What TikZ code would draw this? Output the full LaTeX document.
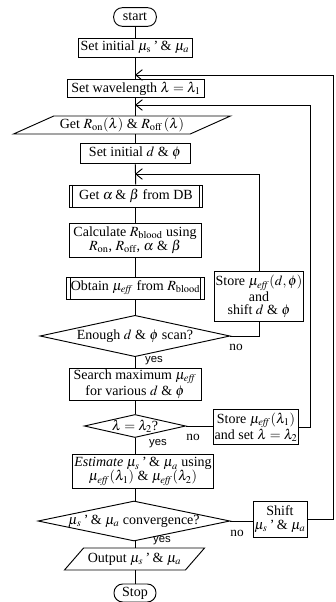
\documentclass[tikz,border=0pt]{standalone}
\usepackage{mathptmx}
\usepackage{fontspec}
\setmainfont{Liberation Serif}
\setsansfont{Liberation Sans}
\usetikzlibrary{shapes.geometric, arrows.meta}

\begin{document}
\begin{tikzpicture}[x=0.75pt, y=-0.75pt, line width=0.7pt,
    every node/.style={font=\fontsize{10.5}{10.5}\selectfont, inner sep=1pt, align=center},
    procbox/.style={draw, rectangle},
    predefbox/.style={procbox, path picture={
        \draw ([xshift=2.5pt]path picture bounding box.north west) -- ([xshift=2.5pt]path picture bounding box.south west);
        \draw ([xshift=-2.5pt]path picture bounding box.north east) -- ([xshift=-2.5pt]path picture bounding box.south east);}},
    iobox/.style={draw, trapezium, trapezium stretches=true},
    decision/.style={draw, diamond, inner sep=0pt},
    termbox/.style={draw, rectangle, rounded corners=6.5pt, minimum width=32pt, minimum height=14pt},
    yeslbl/.style={font=\sffamily\fontsize{8.5}{9}\selectfont, inner sep=0pt},
    nolbl/.style={font=\fontsize{10}{10}\selectfont, inner sep=0pt},
    >={Straight Barb[length=5pt, width=8pt]}]
  \useasboundingbox (0,0) rectangle (335,602);

  \node[termbox] (start) at (135,17) {start};
  \node[procbox, minimum width=85.5pt, minimum height=14.25pt] (init) at (135,47.5) {Set initial $\mu_{\mathrm{s}}$\,'\,\& $\mu_a$};
  \node[procbox, minimum width=103pt, minimum height=13pt] (wave) at (136,88.5) {Set wavelength $\lambda = \lambda_1$};
  \node[iobox, trapezium left angle=24, trapezium right angle=156, minimum width=163pt, minimum height=13.5pt] (getR) at (122,125)
    {Get $R_{\mathrm{on}}(\lambda)$ \& $R_{\mathrm{off}}\,(\lambda)$};
  \node[procbox, minimum width=82.5pt, minimum height=15pt] (setd) at (135,153) {Set initial $d$ \& $\phi$};
  \node[predefbox, minimum width=100pt, minimum height=16.5pt] (getab) at (136,196) {Get $\alpha$\,\& $\beta$ from DB};
  \node[procbox, minimum width=99pt, minimum height=25.5pt] (calc) at (135,240)
    {Calculate $R_{\mathrm{blood}}$ using\\$R_{\mathrm{on}}$, $R_{\mathrm{off}}$, $\alpha$ \& $\beta$};
  \node[predefbox, minimum width=103pt, minimum height=16.5pt] (obtain) at (135.5,288) {Obtain $\mu_{\mathit{eff}}$ from $R_{\mathrm{blood}}$};
  \node[procbox, minimum width=61.5pt, minimum height=37pt, font=\fontsize{10.5}{10}\selectfont] (storeD) at (259,296.5)
    {Store $\mu_{\mathit{eff}}(d,\phi)$\\and\\shift $d$ \& $\phi$};
  \node[decision, aspect=4.6, minimum width=142.5pt, minimum height=31pt] (enough) at (135,336) {Enough $d$ \& $\phi$ scan?};
  \node[procbox, minimum width=99pt, minimum height=24pt] (search) at (135,384)
    {Search maximum $\mu_{\mathit{eff}}$\\for various $d$ \& $\phi$};
  \node[decision, aspect=4.4, minimum width=73pt, minimum height=16.5pt] (lam) at (135,426) {$\lambda = \lambda_2$?};
  \node[procbox, minimum width=63pt, minimum height=26pt] (storeL) at (256,427)
    {Store $\mu_{\mathit{eff}}(\lambda_1)$\\and set $\lambda = \lambda_2$};
  \node[procbox, minimum width=105pt, minimum height=26pt] (estimate) at (143,471.5)
    {\textit{Estimate} $\mu_s$\,'\,\& $\mu_a$ using\\$\mu_{\mathit{eff}}(\lambda_1)$ \& $\mu_{\mathit{eff}}(\lambda_2)$};
  \node[decision, aspect=4.8, minimum width=144pt, minimum height=30pt] (conv) at (134,521) {$\mu_s$\,'\,\& $\mu_a$ convergence?};
  \node[procbox, minimum width=40.5pt, minimum height=27pt] (shift) at (280,519) {Shift\\$\mu_s$\,'\,\& $\mu_a$};
  \node[iobox, trapezium left angle=40, trapezium right angle=140, minimum width=106pt, minimum height=16.5pt] (output) at (134.5,559)
    {Output $\mu_s$\,'\,\& $\mu_a$};
  \node[termbox, minimum width=31.5pt, minimum height=13.5pt] (stop) at (135,593) {Stop};

  \coordinate (m1) at (135,75);
  \coordinate (r1) at (333,75);
  \coordinate (m2) at (135,105);
  \coordinate (r2) at (310,105);
  \coordinate (m3) at (135,174);

  \draw (start) -- (init);
  \draw (init) -- (init |- wave.north);
  \draw (wave.south -| init) -- (init |- getR.north);
  \draw (getR.south -| setd) -- (setd);
  \draw (setd) -- (getab);
  \draw (getab.south -| calc) -- (calc);
  \draw (calc) -- (calc |- obtain.north);
  \draw (obtain.south -| enough) -- (enough);
  \draw (enough) -- (search);
  \draw (search) -- (lam);
  \draw (lam) -- (lam |- estimate.north);
  \draw (estimate.south -| lam) -- (lam |- conv.north);
  \draw (conv.south -| lam) -- (lam |- output.north);
  \draw (output.south -| stop) -- (stop);

  \draw (enough.east) -| (storeD.south);
  \draw[->] (storeD.north) |- (m3);
  \draw (lam.east) -- (lam.east -| storeL.west);
  \draw[->] (storeL.east) -| (r2) -- (m2);
  \draw (conv.east) -- (conv.east -| shift.west);
  \draw[->] (shift.east) -| (r1) -- (m1);

  \node[yeslbl] (yes1) at (154,361) {yes};
  \node[nolbl] (no1) at (236,347) {no};
  \node[yeslbl] (yes2) at (158,444) {yes};
  \node[nolbl] (no2) at (193,437) {no};
  \node[yeslbl] (yes3) at (162,541) {yes};
  \node[nolbl] (no3) at (237,533) {no};
\end{tikzpicture}
\end{document}
